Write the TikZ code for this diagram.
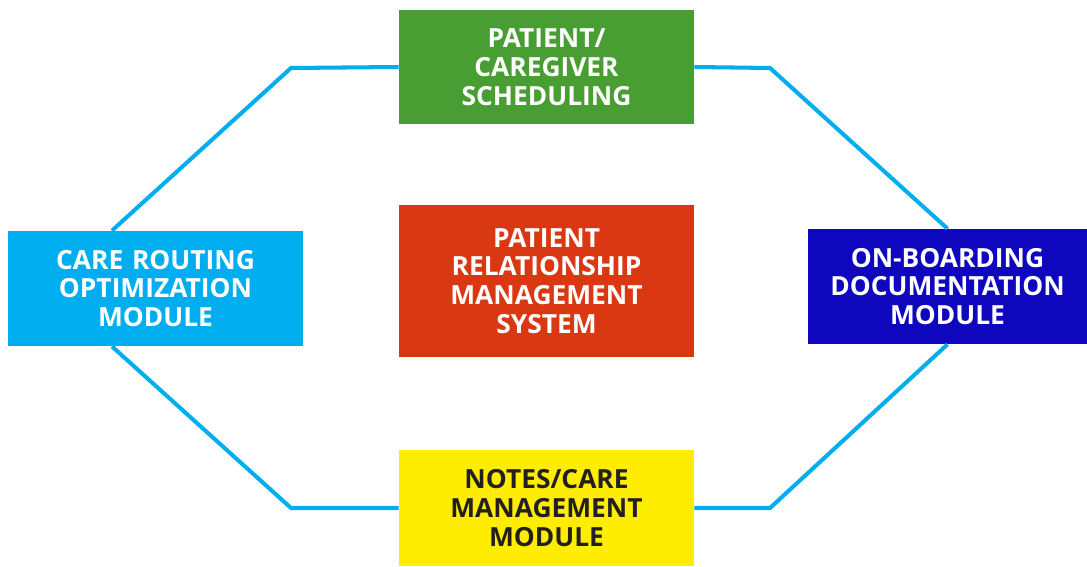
\documentclass[tikz,border=0pt]{standalone}
\usepackage{fontspec}
\setmainfont{Open Sans}
\usetikzlibrary{positioning}
\definecolor{schedgreen}{HTML}{489E33}
\definecolor{prmred}{HTML}{D93812}
\definecolor{routecyan}{HTML}{00AEEF}
\definecolor{onboardblue}{HTML}{0F07BE}
\definecolor{notesyellow}{HTML}{FFED00}
\definecolor{darktext}{HTML}{231F20}
\tikzstyle{module} = [rectangle, minimum width=5.9cm, minimum height=2.3cm, text width=5.6cm, align=center, inner sep=0pt, font=\fontsize{15}{16.4}\selectfont\bfseries, text=white]
\tikzstyle{link} = [draw=routecyan, line width=2.3pt]

\begin{document}
\begin{tikzpicture}[x=0.02cm, y=-0.02cm]
\useasboundingbox (0,0) rectangle (1087,567);
\node (sched) [module, fill=schedgreen] at (546.5,67) {PATIENT/\\CAREGIVER\\SCHEDULING};
\node (prm) [module, fill=prmred, minimum height=3.04cm] at (546.5,281) {PATIENT\\RELATIONSHIP\\MANAGEMENT\\SYSTEM};
\node (route) [module, fill=routecyan] at (155.5,288.5) {CARE ROUTING\\OPTIMIZATION\\MODULE};
\node (onboard) [module, fill=onboardblue, minimum width=5.54cm] at (947.5,286.5) {ON-BOARDING\\DOCUMENTATION\\MODULE};
\node (notes) [module, fill=notesyellow, text=darktext, minimum height=2.32cm] at (546.5,508) {NOTES/CARE\\MANAGEMENT\\MODULE};

% corners of the ring
\coordinate (tl) at (291,68);
\coordinate (tr) at (770,68);
\coordinate (bl) at (291,508);
\coordinate (br) at (770,508);

\draw[link] (sched.west) -- (tl) -- (route.127);
\draw[link] (sched.east) -- (tr) -- (onboard.north);
\draw[link] (route.233) -- (bl) -- (notes.west);
\draw[link] (onboard.south) -- (br) -- (notes.east);
\end{tikzpicture}
\end{document}
